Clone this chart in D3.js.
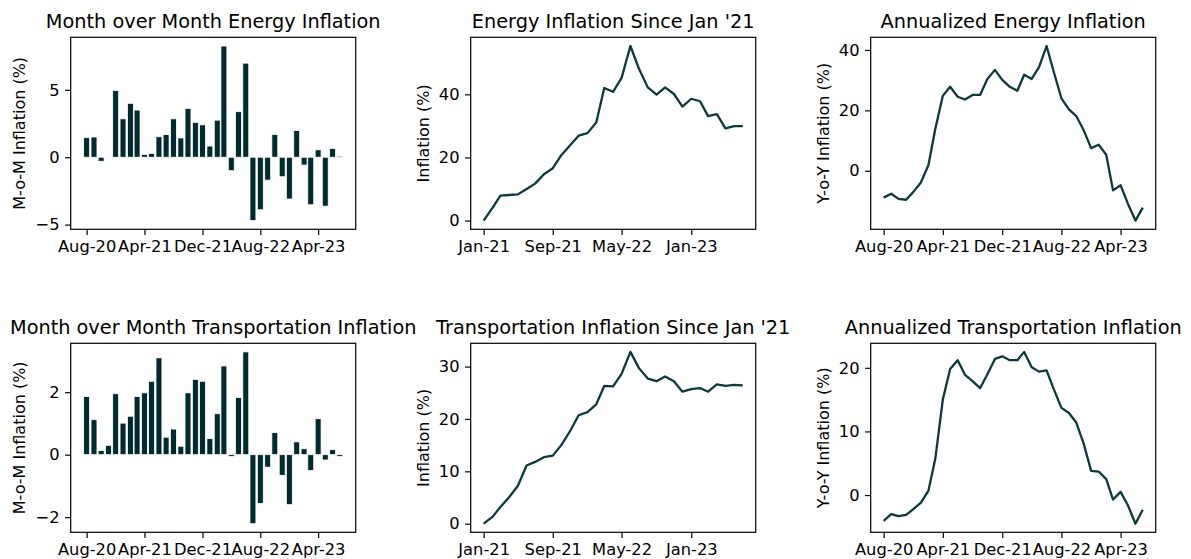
<!DOCTYPE html>
<html lang="en">
<head>
<meta charset="UTF-8">
<script src="https://cdn.jsdelivr.net/npm/d3@7"></script>
<title>Energy and Transportation Inflation</title>
<style>
    body { margin: 0; background: #fff; }
    svg text { font-family: "DejaVu Sans", sans-serif; fill: #000; }
    .axis path, .axis line { stroke: #000; stroke-width: 1.2px; }
</style>
</head>
<body>
<svg id="chart" width="1191" height="559"></svg>
<script>
// months covered by the monthly / year-over-year series
var months = ["Aug-20","Sep-20","Oct-20","Nov-20","Dec-20",
    "Jan-21","Feb-21","Mar-21","Apr-21","May-21","Jun-21","Jul-21","Aug-21","Sep-21","Oct-21","Nov-21","Dec-21",
    "Jan-22","Feb-22","Mar-22","Apr-22","May-22","Jun-22","Jul-22","Aug-22","Sep-22","Oct-22","Nov-22","Dec-22",
    "Jan-23","Feb-23","Mar-23","Apr-23","May-23","Jun-23","Jul-23"];
// cumulative series start in Jan-21
var monthsSince = months.slice(5);

var energyMoM = [1.45, 1.5, -0.3, 0, 4.95, 2.85, 4.0, 3.5, 0.2, 0.28, 1.52, 1.68, 2.85, 1.43, 3.62, 2.58,
    2.4, 0.83, 2.75, 8.25, -1.0, 3.38, 6.98, -4.7, -3.9, -1.7, 1.68, -1.45, -3.1, 1.98, -0.58, -3.53,
    0.55, -3.63, 0.65, 0.08];
var energySince = [0, 4.0, 7.9, 8.1, 8.3, 10.0, 11.7, 14.7, 16.6, 20.7, 23.9, 26.9, 27.7, 31.1, 42.0, 40.8,
    45.2, 55.3, 48.1, 42.2, 39.9, 42.2, 40.1, 36.1, 38.6, 37.8, 33.1, 33.7, 29.2, 29.9, 29.9];
var energyYoY = [-8.9, -7.6, -9.3, -9.6, -7.0, -3.9, 1.9, 13.8, 24.8, 27.8, 24.5, 23.6, 25.1, 25.1, 30.4, 33.4,
    30.1, 27.8, 26.5, 31.8, 30.4, 34.3, 41.3, 32.6, 24.0, 20.3, 18.1, 13.3, 7.5, 8.6, 5.3, -6.5,
    -4.8, -10.9, -16.5, -12.2];

var transMoM = [1.86, 1.12, 0.13, 0.30, 1.95, 1.01, 1.23, 1.86, 1.98, 2.35, 3.10, 0.56, 0.82, 0.27, 1.98, 2.41,
    2.35, 0.52, 1.31, 2.84, -0.06, 1.83, 3.29, -2.21, -1.56, -0.40, 0.71, -0.66, -1.60, 0.41, 0.19, -0.51,
    1.15, -0.17, 0.16, -0.06];
var transSince = [0, 1.3, 3.2, 5.1, 7.2, 11.1, 11.8, 12.7, 13.0, 15.0, 17.7, 20.7, 21.3, 22.8, 26.3, 26.2,
    28.6, 32.8, 29.7, 27.7, 27.2, 28.1, 27.2, 25.2, 25.7, 25.9, 25.2, 26.6, 26.3, 26.5, 26.4];
var transYoY = [-4.05, -3.0, -3.3, -3.1, -2.2, -1.2, 0.7, 5.7, 15.0, 19.8, 21.2, 18.9, 17.9, 16.8, 19.0, 21.4,
    21.8, 21.2, 21.2, 22.5, 20.1, 19.4, 19.6, 16.6, 13.7, 12.9, 11.4, 8.0, 3.8, 3.7, 2.5, -0.7,
    0.5, -1.6, -4.5, -2.3];

var ticksLong = ["Aug-20", "Apr-21", "Dec-21", "Aug-22", "Apr-23"];
var ticksSince = ["Jan-21", "Sep-21", "May-22", "Jan-23"];

var yTicksEnergyMoM = [-5, 0, 5];
var yTicksEnergySince = [0, 20, 40];
var yTicksEnergyYoY = [0, 20, 40];
var yTicksTransMoM = [-2, 0, 2];
var yTicksTransSince = [0, 10, 20, 30];
var yTicksTransYoY = [0, 10, 20];

var parse = d3.timeParse("%b-%y");
var fmt = d3.timeFormat("%b-%y");
var DAY = 864e5;

var svg = d3.select("#chart");
var barColor = "#032a2d", lineColor = "#0e393a";

var colX = [70.7, 470.7, 870.7];
var rowY = [37.3, 343.3];
var boxW = 285, boxH = [192, 189];

function panel(opt) {
    var g = svg.append("g").attr("transform", "translate(" + opt.x + "," + opt.y + ")");
    var w = boxW, h = opt.h;
    var dates = opt.months.map(parse);
    var half = opt.bar ? 12.5 * DAY : 0;

    // x domain padded 5% like matplotlib autoscale
    var x0 = +dates[0] - half, x1 = +dates[dates.length - 1] + half;
    var xp = (x1 - x0) * 0.05;
    var x = d3.scaleTime().domain([new Date(x0 - xp), new Date(x1 + xp)]).range([0, w]);

    var ext = d3.extent(opt.values);
    if (opt.bar) { ext[0] = Math.min(0, ext[0]); ext[1] = Math.max(0, ext[1]); }
    var yp = (ext[1] - ext[0]) * 0.05;
    var y = d3.scaleLinear().domain([ext[0] - yp, ext[1] + yp]).range([h, 0]);

    if (opt.bar) {
        g.selectAll("rect.bar").data(opt.values).enter().append("rect")
            .attr("class", "bar")
            .attr("x", function(d, i) { return x(+dates[i] - half); })
            .attr("width", function(d, i) { return x(+dates[i] + half) - x(+dates[i] - half); })
            .attr("y", function(d) { return y(Math.max(0, d)); })
            .attr("height", function(d) { return Math.abs(y(d) - y(0)); })
            .attr("fill", barColor)
            .attr("stroke", "#ffffff")
            .attr("stroke-width", 0.8);
    } else {
        var line = d3.line()
            .x(function(d, i) { return x(dates[i]); })
            .y(function(d) { return y(d); });
        g.append("path").datum(opt.values)
            .attr("d", line)
            .attr("fill", "none")
            .attr("stroke", lineColor)
            .attr("stroke-width", 2.3)
            .attr("stroke-linejoin", "round");
    }

    var xAxis = d3.axisBottom(x)
        .tickValues(opt.xticks.map(parse))
        .tickFormat(fmt)
        .tickSize(5.6).tickPadding(5.6).tickSizeOuter(0);
    var gx = g.append("g").attr("class", "axis")
        .attr("transform", "translate(0," + h + ")")
        .call(xAxis);
    gx.select(".domain").remove();
    gx.selectAll("text").style("font-size", "16.3px");

    var yAxis = d3.axisLeft(y)
        .tickValues(opt.yticks)
        .tickFormat(d3.format("d"))
        .tickSize(5.6).tickPadding(5.6).tickSizeOuter(0);
    var gy = g.append("g").attr("class", "axis").call(yAxis);
    gy.select(".domain").remove();
    gy.selectAll("text").style("font-size", "16.3px");

    // frame
    g.append("rect").attr("width", w).attr("height", h)
        .attr("fill", "none").attr("stroke", "#000").attr("stroke-width", 1.2);

    var minX = 0;
    gy.selectAll("text").each(function() {
        var b = this.getBBox();
        minX = Math.min(minX, b.x);
    });
    g.append("text")
        .attr("transform", "translate(" + (minX - 6.4 - 3.8) + "," + (h / 2) + ") rotate(-90)")
        .attr("text-anchor", "middle")
        .style("font-size", "16px")
        .text(opt.ylabel);

    g.append("text")
        .attr("x", w / 2).attr("y", -9.5)
        .attr("text-anchor", "middle")
        .style("font-size", "19.3px")
        .text(opt.title);
}

panel({ x: colX[0], y: rowY[0], h: boxH[0], bar: true, months: months, values: energyMoM,
    xticks: ticksLong, yticks: yTicksEnergyMoM,
    title: "Month over Month Energy Inflation", ylabel: "M-o-M Inflation (%)" });
panel({ x: colX[1], y: rowY[0], h: boxH[0], bar: false, months: monthsSince, values: energySince,
    xticks: ticksSince, yticks: yTicksEnergySince,
    title: "Energy Inflation Since Jan '21", ylabel: "Inflation (%)" });
panel({ x: colX[2], y: rowY[0], h: boxH[0], bar: false, months: months, values: energyYoY,
    xticks: ticksLong, yticks: yTicksEnergyYoY,
    title: "Annualized Energy Inflation", ylabel: "Y-o-Y Inflation (%)" });

panel({ x: colX[0], y: rowY[1], h: boxH[1], bar: true, months: months, values: transMoM,
    xticks: ticksLong, yticks: yTicksTransMoM,
    title: "Month over Month Transportation Inflation", ylabel: "M-o-M Inflation (%)" });
panel({ x: colX[1], y: rowY[1], h: boxH[1], bar: false, months: monthsSince, values: transSince,
    xticks: ticksSince, yticks: yTicksTransSince,
    title: "Transportation Inflation Since Jan '21", ylabel: "Inflation (%)" });
panel({ x: colX[2], y: rowY[1], h: boxH[1], bar: false, months: months, values: transYoY,
    xticks: ticksLong, yticks: yTicksTransYoY,
    title: "Annualized Transportation Inflation", ylabel: "Y-o-Y Inflation (%)" });
</script>
</body>
</html>
